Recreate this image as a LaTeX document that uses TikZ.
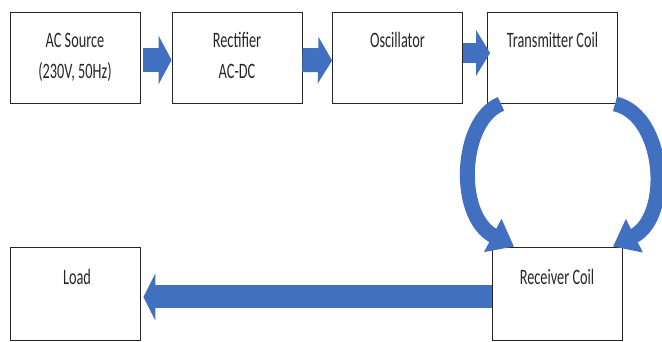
\documentclass[tikz,border=0pt]{standalone}
\usepackage{fontspec}
\setmainfont{Carlito}[FakeStretch=0.65]
\usepackage{tikz}
\usetikzlibrary{arrows.meta}
\definecolor{arrowblue}{RGB}{66,112,192}
\tikzset{
	blockbox/.style={draw=black!85, line width=0.8pt, minimum width=130pt, minimum height=91pt, inner sep=0pt},
	boxtext/.style={font=\fontsize{22}{31}\selectfont, text=black!85, align=center, inner sep=0pt, anchor=base},
	flow/.style={draw=arrowblue, line width=#1},
}

\begin{document}
\begin{tikzpicture}[x=1pt, y=1pt]
			\useasboundingbox (0,0) rectangle (662,342);
			\node[blockbox] (ac) at (75,284.5) {};
			\node[blockbox] (rect) at (237,284.5) {};
			\node[blockbox] (osc) at (397.5,284) {};
			\node[blockbox] (tx) at (552.5,284) {};
			\node[blockbox, minimum height=93pt] (rx) at (557,48.5) {};
			\node[blockbox, minimum height=93pt] (load) at (75,48.5) {};
			\node[boxtext] (actext) at ([yshift=-67pt]ac.north) {AC Source\\(230V, 50Hz)};
			\node[boxtext] (recttext) at ([yshift=-67pt]rect.north) {Rectifier\\AC-DC};
			\node[boxtext] (osctext) at ([yshift=-35pt]osc.north) {Oscillator};
			\node[boxtext] (txtext) at ([yshift=-35pt]tx.north) {Transmitter Coil};
			\node[boxtext] (rxtext) at ([yshift=-38pt]rx.north) {Receiver Coil};
			\node[boxtext] (loadtext) at ([yshift=-38pt,xshift=2pt]load.north) {Load};
			\draw[flow=24pt, -{Triangle[width=48pt, length=13pt]}] ([xshift=3pt, yshift=-2.5pt]ac.east) -- ([yshift=-2.5pt]rect.west);
			\draw[flow=24pt, -{Triangle[width=46pt, length=14pt]}] ([yshift=-2.5pt]rect.east) -- ([yshift=-2.5pt]osc.west);
			\draw[flow=20pt, -{Triangle[width=45pt, length=14pt]}] ([yshift=5pt]osc.east) -- ([xshift=3pt, yshift=5pt]tx.west);
			\draw[flow=23pt, -{Triangle[width=47pt, length=12pt]}] ([yshift=-3.5pt]rx.west) -- ([xshift=3pt, yshift=-3.5pt]load.east);
			\draw[flow=15pt, -{Triangle[width=36pt, length=24pt]}] ([xshift=-51.5pt]tx.south) .. controls +(-41,-16) and +(-59,31) .. ([xshift=-43pt]rx.north);
			\draw[flow=15pt, -{Triangle[width=36pt, length=24pt]}] ([xshift=62.5pt]tx.south) .. controls +(50,-11) and +(59,30) .. ([xshift=56pt]rx.north);
		\end{tikzpicture}
\end{document}
